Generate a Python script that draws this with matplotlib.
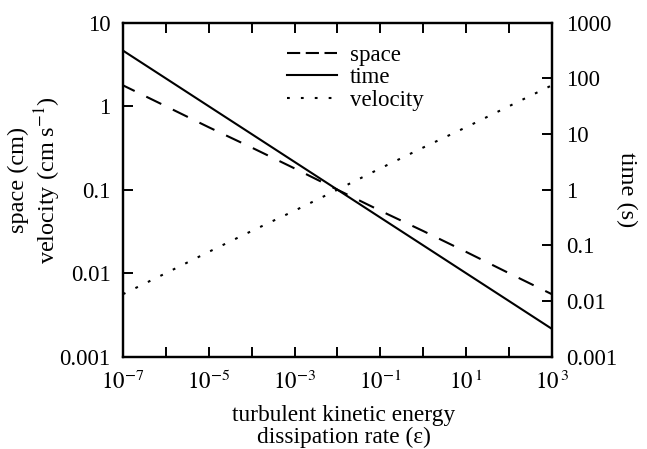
import numpy as np
import matplotlib as mpl
mpl.use('Agg')
import matplotlib.pyplot as plt

mpl.rcParams['font.family'] = ['Liberation Serif', 'DejaVu Serif']
mpl.rcParams['mathtext.fontset'] = 'stix'
mpl.rcParams['font.size'] = 16.5
mpl.rcParams['lines.scale_dashes'] = False

# dissipation rate (one point per decade) and the three Kolmogorov scales
eps = [1e-7, 1e-6, 1e-5, 1e-4, 1e-3, 1e-2, 1e-1, 1e0, 1e1, 1e2, 1e3]
space = [1.78, 1.0, 0.56, 0.32, 0.18, 0.1, 0.056, 0.032, 0.018, 0.01, 0.0056]
velocity = [0.0056, 0.01, 0.018, 0.032, 0.056, 0.1, 0.18, 0.32, 0.56, 1.0, 1.78]
time = [316, 100, 31.6, 10, 3.16, 1.0, 0.316, 0.1, 0.0316, 0.01, 0.00316]

left_ticks = [0.001, 0.01, 0.1, 1, 10]
left_labels = ['0.001', '0.01', '0.1', '1', '10']
right_ticks = [0.001, 0.01, 0.1, 1, 10, 100, 1000]
right_labels = ['0.001', '0.01', '0.1', '1', '10', '100', '1000']
x_exps = list(range(-7, 4))

fig = plt.figure(figsize=(6.47, 4.49), dpi=100)
ax = fig.add_axes([0.190, 0.2056, 0.663, 0.7438])
ax2 = ax.twinx()

lw = 1.5
h1, = ax.plot(eps, space, color='k', lw=lw, ls=(2.6, (12.0, 9.3)), label='space')
h3, = ax.plot(eps, velocity, color='k', lw=lw, ls=(0, (2.0, 8.0)), label='velocity')
h2, = ax2.plot(eps, time, color='k', lw=lw, ls='-', label='time')

ax.set_xscale('log')
ax.set_yscale('log')
ax2.set_yscale('log')
ax.set_xlim(1e-7, 1e3)
ax.set_ylim(1e-3, 10)
ax2.set_ylim(1e-3, 1e3)

ax.set_xticks([10.0**e for e in x_exps])
xlabels = []
for e in x_exps:
    if e % 2 == 0:
        xlabels.append('')
    elif e < 0:
        xlabels.append(r'$10^{%d}$' % e)
    else:
        xlabels.append(r'$10^{\,%d}$' % e)
ax.set_xticklabels(xlabels)
ax.set_yticks(left_ticks)
ax.set_yticklabels(left_labels)
ax2.set_yticks(right_ticks)
ax2.set_yticklabels(right_labels)
ax.minorticks_off()
ax2.minorticks_off()

ax.tick_params(axis='both', direction='in', length=7, width=1.4, top=True, right=False)
ax.tick_params(axis='x', pad=10)
ax.tick_params(axis='y', pad=9)
ax2.tick_params(axis='y', direction='in', length=7, width=1.4, pad=10)
for a in (ax, ax2):
    for s in a.spines.values():
        s.set_linewidth(1.6)

ax.set_xlabel('turbulent kinetic energy\ndissipation rate (ε)', fontsize=16.8, linespacing=1.05)
ax.xaxis.set_label_coords(0.515, -0.145)
ax.xaxis.label.set_verticalalignment('top')

ax.set_ylabel('space (cm)\nvelocity (cm s$^{-1}$)', fontsize=17.5, linespacing=1.15,
              va='bottom')
ax.yaxis.set_label_coords(-0.14, 0.53)

ax2.set_ylabel('time (s)', fontsize=17.5, rotation=270, va='bottom')
ax2.yaxis.set_label_coords(1.15, 0.50)

leg = ax.legend([h1, h2, h3], ['space', 'time', 'velocity'], frameon=False,
                loc='upper left', bbox_to_anchor=(0.36, 0.96), handlelength=2.2,
                handletextpad=0.55, labelspacing=0.05, borderaxespad=0.0)
# shorter dashes in the legend key so it shows more than one segment
leg.get_lines()[0].set_linestyle((0, (9.5, 4.0)))

fig.savefig('out.png', dpi=100)
